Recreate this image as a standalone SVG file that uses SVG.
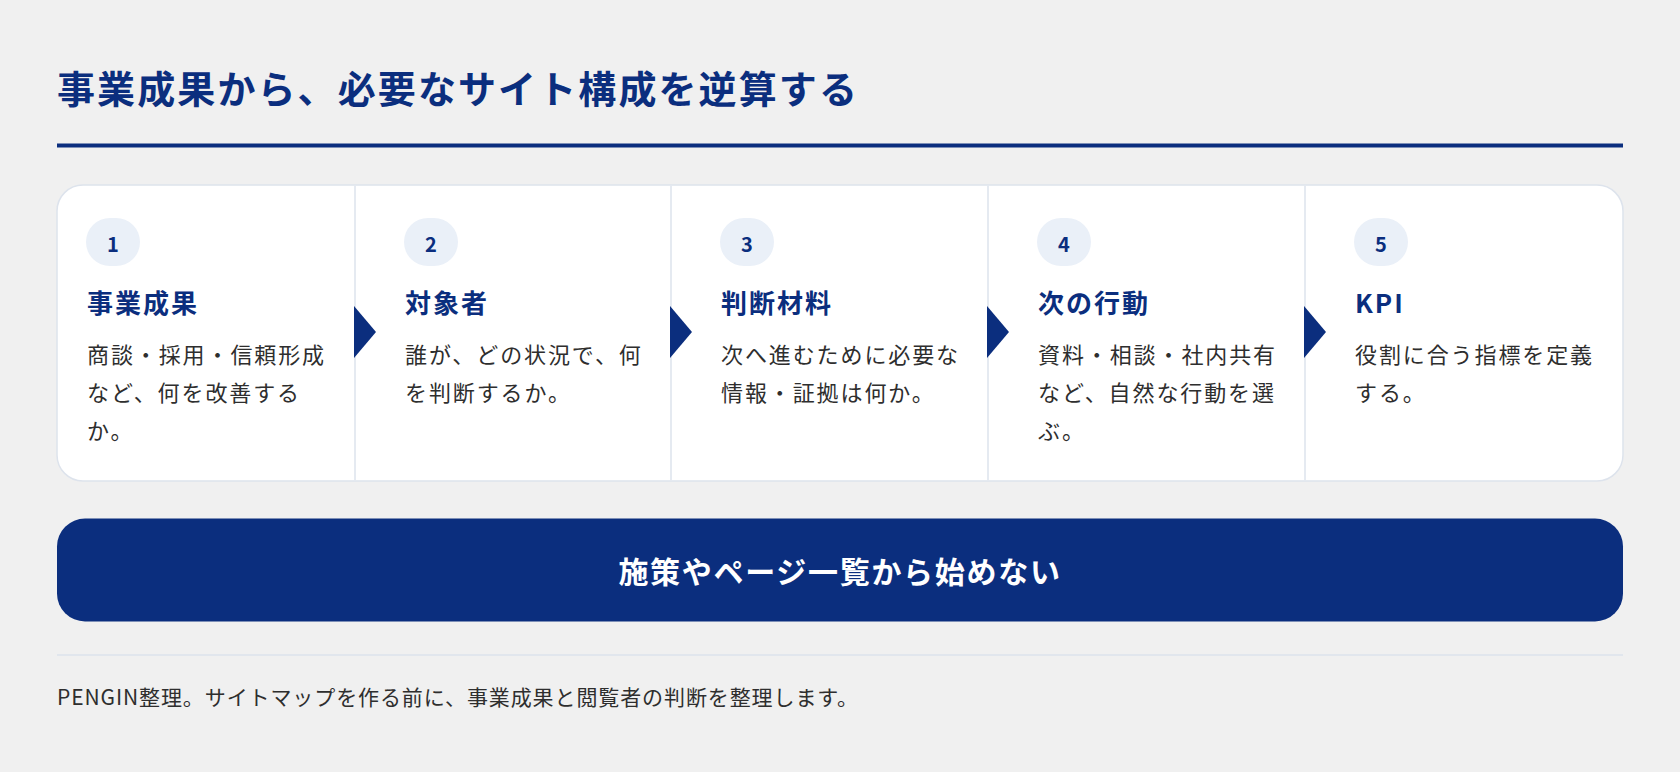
<svg xmlns="http://www.w3.org/2000/svg" width="1680" height="772" viewBox="0 0 1680 772">
<style>
text{font-family:"Noto Sans CJK JP","Noto Sans",sans-serif}
.title{font-size:38px;font-weight:700;fill:#0b2e7e;letter-spacing:2.1px}
.num{font-size:20px;font-weight:700;fill:#0b2e7e;text-anchor:middle}
.pill{fill:#eaf0f8}
.head{font-size:26px;font-weight:700;fill:#0b2e7e;letter-spacing:2px}
.body{font-size:22px;font-weight:400;fill:#2e2e2e;letter-spacing:1.9px}
.div{stroke:#dde3ec;stroke-width:1.5}
.arrow{fill:#0b2e7e}
.btn{font-size:30px;font-weight:700;fill:#ffffff;letter-spacing:1.7px;text-anchor:middle}
.foot{font-size:21px;fill:#2e2e2e;letter-spacing:0.9px}
</style>
<rect x="0" y="0" width="1680" height="772" fill="#f0f0f0"/>
<g id="title">
<text class="title" x="57" y="103">事業成果から、必要なサイト構成を逆算する</text>
<rect x="57" y="143.5" width="1566" height="4" fill="#0b2e7e"/>
</g>
<g id="card">
<rect x="57" y="185" width="1566" height="296" rx="26" fill="#ffffff" stroke="#dde3ec" stroke-width="1.5"/>
</g>
<g id="connectors">
<line class="div" x1="355" y1="185.8" x2="355" y2="480.2"/>
<line class="div" x1="671" y1="185.8" x2="671" y2="480.2"/>
<line class="div" x1="988" y1="185.8" x2="988" y2="480.2"/>
<line class="div" x1="1305" y1="185.8" x2="1305" y2="480.2"/>
<polygon class="arrow" points="354,306 376,332 354,358"/>
<polygon class="arrow" points="670,306 692,332 670,358"/>
<polygon class="arrow" points="987,306 1009,332 987,358"/>
<polygon class="arrow" points="1304,306 1326,332 1304,358"/>
</g>
<g id="step1">
<rect class="pill" x="86" y="218" width="54" height="48" rx="24"/>
<text class="num" x="113" y="252">1</text>
<text class="head" x="87" y="313">事業成果</text>
<text class="body" x="87" y="362.5">商談・採用・信頼形成</text>
<text class="body" x="87" y="400.5">など、何を改善する</text>
<text class="body" x="87" y="438.5">か。</text>
</g>
<g id="step2">
<rect class="pill" x="404" y="218" width="54" height="48" rx="24"/>
<text class="num" x="431" y="252">2</text>
<text class="head" x="405" y="313">対象者</text>
<text class="body" x="405" y="362.5">誰が、どの状況で、何</text>
<text class="body" x="405" y="400.5">を判断するか。</text>
</g>
<g id="step3">
<rect class="pill" x="720" y="218" width="54" height="48" rx="24"/>
<text class="num" x="747" y="252">3</text>
<text class="head" x="721" y="313">判断材料</text>
<text class="body" x="721" y="362.5">次へ進むために必要な</text>
<text class="body" x="721" y="400.5">情報・証拠は何か。</text>
</g>
<g id="step4">
<rect class="pill" x="1037" y="218" width="54" height="48" rx="24"/>
<text class="num" x="1064" y="252">4</text>
<text class="head" x="1038" y="313">次の行動</text>
<text class="body" x="1038" y="362.5">資料・相談・社内共有</text>
<text class="body" x="1038" y="400.5">など、自然な行動を選</text>
<text class="body" x="1038" y="438.5">ぶ。</text>
</g>
<g id="step5">
<rect class="pill" x="1354" y="218" width="54" height="48" rx="24"/>
<text class="num" x="1381" y="252">5</text>
<text class="head" x="1355" y="313">KPI</text>
<text class="body" x="1355" y="362.5">役割に合う指標を定義</text>
<text class="body" x="1355" y="400.5">する。</text>
</g>
<g id="banner">
<rect x="57" y="518.5" width="1566" height="103" rx="28" fill="#0b2e7e"/>
<text class="btn" x="840" y="583">施策やページ一覧から始めない</text>
</g>
<g id="footer">
<line x1="57" y1="655" x2="1623" y2="655" stroke="#dde3ec" stroke-width="1.5"/>
<text class="foot" x="57" y="705">PENGIN整理。サイトマップを作る前に、事業成果と閲覧者の判断を整理します。</text>
</g>
</svg>
